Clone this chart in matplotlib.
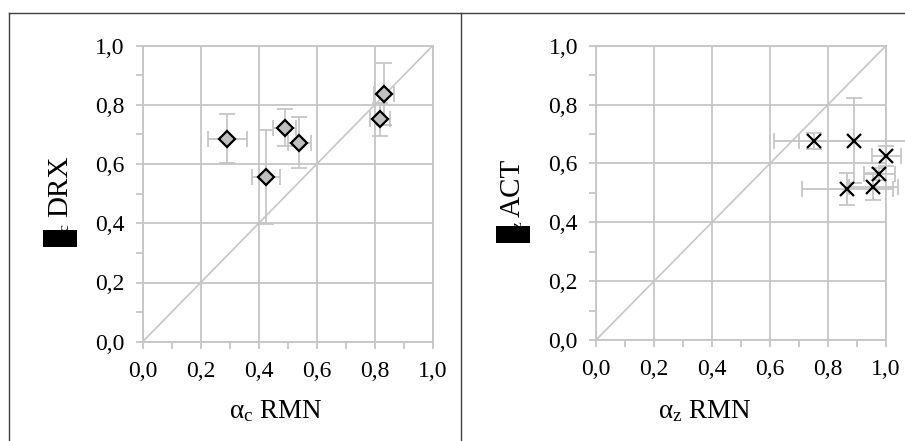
import numpy as np
import matplotlib
matplotlib.use('Agg')
import matplotlib.pyplot as plt
from matplotlib.patches import Rectangle
from matplotlib.lines import Line2D
from matplotlib.ticker import MultipleLocator, FuncFormatter

plt.rcParams['font.family'] = ['Liberation Serif', 'DejaVu Serif']
plt.rcParams['mathtext.fontset'] = 'custom'
plt.rcParams['mathtext.rm'] = 'Liberation Serif'
plt.rcParams['mathtext.it'] = 'Liberation Serif'

# left panel: alpha_c, RMN vs DRX
rmn_c = [0.292, 0.425, 0.490, 0.540, 0.818, 0.832]
drx_c = [0.686, 0.557, 0.723, 0.672, 0.751, 0.838]
rmn_c_err = [0.066, 0.047, 0.040, 0.040, 0.034, 0.036]
drx_c_err = [0.082, 0.158, 0.063, 0.086, 0.056, 0.105]

# right panel: alpha_z, RMN vs ACT
rmn_z = [0.752, 0.891, 1.000, 0.977, 0.956, 0.867]
act_z = [0.676, 0.677, 0.625, 0.563, 0.521, 0.513]
rmn_z_err = [0.138, 0.190, 0.050, 0.053, 0.085, 0.158]
act_z_err = [0.026, 0.144, 0.035, 0.020, 0.045, 0.054]

GRID = '#c6c6c6'
W, H = 905, 441

fig = plt.figure(figsize=(9.05, 4.41), dpi=100)

def px(x0, y0, x1, y1):
    # pixel box (top-left origin) -> figure fraction rect
    return [x0 / W, 1 - y1 / H, (x1 - x0) / W, (y1 - y0) / H]

def setup(ax):
    ax.set_xlim(0, 1)
    ax.set_ylim(0, 1)
    ax.xaxis.set_major_locator(MultipleLocator(0.2))
    ax.yaxis.set_major_locator(MultipleLocator(0.2))
    ax.xaxis.set_minor_locator(MultipleLocator(0.1))
    ax.yaxis.set_minor_locator(MultipleLocator(0.1))
    fmt = FuncFormatter(lambda v, p: ('%.1f' % v).replace('.', ','))
    ax.xaxis.set_major_formatter(fmt)
    ax.yaxis.set_major_formatter(fmt)
    ax.grid(True, which='major', color=GRID, lw=1.3)
    for s in ax.spines.values():
        s.set_color(GRID)
        s.set_linewidth(1.3)
    ax.tick_params(which='both', direction='out', color=GRID, width=1.3, labelsize=17, labelcolor='black')
    ax.tick_params(which='both', length=5)
    ax.tick_params(axis='x', which='major', pad=9)
    ax.tick_params(axis='y', which='major', pad=8)
    ax.plot([0, 1], [0, 1], color=GRID, lw=1.2, zorder=1)
    ax.set_axisbelow(True)

ax1 = fig.add_axes(px(142.7, 45.7, 432.7, 341.7))
setup(ax1)
ax1.errorbar(rmn_c, drx_c, xerr=rmn_c_err, yerr=drx_c_err, fmt='none', ecolor=GRID,
             elinewidth=1.3, capsize=5.5, capthick=1.3, zorder=2, clip_on=False)
ax1.plot(rmn_c, drx_c, 'D', ms=8, mfc='#c0c0c0', mec='black', mew=1.6, zorder=3, clip_on=False)

ax2 = fig.add_axes(px(596, 45.7, 886, 340))
setup(ax2)
eb = ax2.errorbar(rmn_z, act_z, xerr=rmn_z_err, yerr=act_z_err, fmt='none', ecolor=GRID,
                  elinewidth=1.3, capsize=5.5, capthick=1.3, zorder=2)
for art in eb.lines[1] + eb.lines[2]:
    art.set_clip_on(False)
ax2.plot(rmn_z, act_z, 'x', ms=10, mec='black', mew=1.6, zorder=3, clip_on=False)

# x labels
fig.text(276 / W, 1 - 418.5 / H, 'α$_\\mathrm{c}$ RMN', fontsize=19.5, ha='center', va='baseline')
fig.text(705 / W, 1 - 418.5 / H, 'α$_\\mathrm{z}$ RMN', fontsize=19.5, ha='center', va='baseline')

# y labels (alpha glyph rendered as a black box in the original)
fig.text(60 / W, 1 - 186 / H, 'DRX', rotation=90, fontsize=21, ha='center', va='center')
fig.text(65 / W, 1 - 228 / H, 'c', rotation=90, fontsize=11, ha='center', va='center')
fig.patches.append(Rectangle((43 / W, 1 - 247 / H), 34 / W, 17 / H, transform=fig.transFigure,
                             facecolor='black', edgecolor='none'))
fig.text(513 / W, 1 - 188 / H, 'ACT', rotation=90, fontsize=21, ha='center', va='center')
fig.text(518 / W, 1 - 225 / H, 'z', rotation=90, fontsize=11, ha='center', va='center')
fig.patches.append(Rectangle((496 / W, 1 - 243 / H), 34 / W, 17 / H, transform=fig.transFigure,
                             facecolor='black', edgecolor='none'))

# outer frame lines
frame = '#404040'
fig.lines.append(Line2D([9 / W, 1], [1 - 13 / H, 1 - 13 / H], transform=fig.transFigure, color=frame, lw=1))
fig.lines.append(Line2D([9 / W, 9 / W], [0, 1 - 13 / H], transform=fig.transFigure, color=frame, lw=1))
fig.lines.append(Line2D([461 / W, 461 / W], [0, 1 - 13 / H], transform=fig.transFigure, color=frame, lw=1))

fig.savefig('out.png', dpi=100)
